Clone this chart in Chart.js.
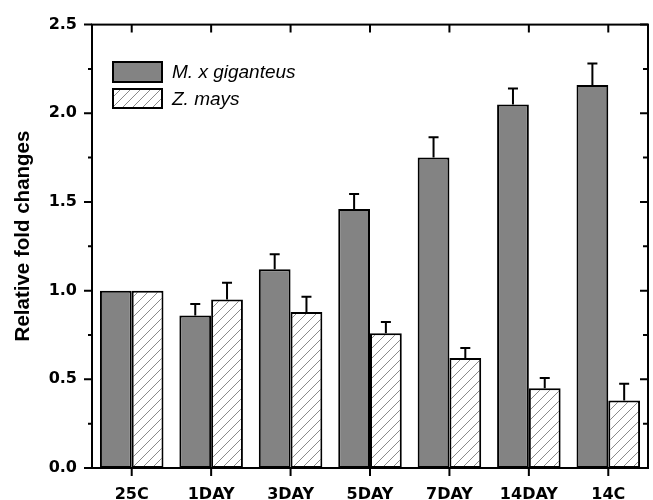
<!DOCTYPE html>
<html>
<head>
<meta charset="utf-8">
<script src="https://cdn.jsdelivr.net/npm/chart.js@4.4.0/dist/chart.umd.min.js"></script>
<style>
  html, body { margin: 0; padding: 0; background: #fff; }
  #wrap { width: 653px; height: 500px; }
</style>
</head>
<body>
<div id="wrap"><canvas id="c" width="653" height="500"></canvas></div>
<script>
// ---- data ----
const categories = ['25C', '1DAY', '3DAY', '5DAY', '7DAY', '14DAY', '14C'];
const seriesNames = ['M. x giganteus', 'Z. mays'];
const mxgValues = [1.00, 0.86, 1.12, 1.46, 1.75, 2.05, 2.16];
const mxgErrors = [0.00, 0.065, 0.085, 0.085, 0.115, 0.09, 0.12];
const zmValues  = [1.00, 0.95, 0.88, 0.76, 0.62, 0.45, 0.38];
const zmErrors  = [0.00, 0.095, 0.085, 0.063, 0.056, 0.058, 0.095];
const yTickValues = [0, 0.5, 1.0, 1.5, 2.0, 2.5];
const yTitle = 'Relative fold changes';

const FONT = '"Liberation Sans", Arial, sans-serif';
const TICKFONT = '"DejaVu Sans", "Liberation Sans", sans-serif';

// hatch pattern
function makeHatch() {
  const s = 10;
  const pc = document.createElement('canvas');
  pc.width = s; pc.height = s;
  const g = pc.getContext('2d');
  g.fillStyle = '#ffffff';
  g.fillRect(0, 0, s, s);
  g.strokeStyle = '#8a8a8a';
  g.lineWidth = 1;
  g.beginPath();
  g.moveTo(-1, s + 1); g.lineTo(s + 1, -1);
  g.moveTo(-1, 1); g.lineTo(1, -1);
  g.moveTo(s - 1, s + 1); g.lineTo(s + 1, s - 1);
  g.stroke();
  return g.createPattern(pc, 'repeat');
}
const ctx0 = document.getElementById('c').getContext('2d');
const hatch = makeHatch();

const errorBarPlugin = {
  id: 'errorBars',
  afterDatasetsDraw(chart) {
    const ctx = chart.ctx;
    const ys = chart.scales.y;
    const errs = [mxgErrors, zmErrors];
    const vals = [mxgValues, zmValues];
    ctx.save();
    ctx.strokeStyle = '#000';
    ctx.lineWidth = 2;
    chart.data.datasets.forEach((ds, i) => {
      const meta = chart.getDatasetMeta(i);
      meta.data.forEach((el, j) => {
        const e = errs[i][j];
        if (!e) return;
        const yb = ys.getPixelForValue(vals[i][j]);
        const yt = ys.getPixelForValue(vals[i][j] + e);
        ctx.beginPath();
        ctx.moveTo(el.x, yb);
        ctx.lineTo(el.x, yt);
        ctx.moveTo(el.x - 5, yt);
        ctx.lineTo(el.x + 5, yt);
        ctx.stroke();
      });
    });
    ctx.restore();
  }
};

const framePlugin = {
  id: 'frame',
  afterDraw(chart) {
    const ctx = chart.ctx;
    const a = chart.chartArea;
    const xs = chart.scales.x, ys = chart.scales.y;
    ctx.save();
    ctx.strokeStyle = '#000';
    ctx.lineWidth = 2;
    ctx.strokeRect(a.left, a.top, a.right - a.left, a.bottom - a.top);
    ctx.beginPath();
    for (let v = 0; v <= 2.5001; v += 0.25) {
      const y = ys.getPixelForValue(v);
      const major = Math.abs(v / 0.5 - Math.round(v / 0.5)) < 1e-6;
      const L = major ? 8 : 4;
      ctx.moveTo(a.left - L, y); ctx.lineTo(a.left, y);
      ctx.moveTo(a.right, y); ctx.lineTo(a.right - (major ? 8 : 5), y);
    }
    categories.forEach((c, i) => {
      const x = xs.getPixelForValue(i);
      ctx.moveTo(x, a.bottom); ctx.lineTo(x, a.bottom + 8);
      ctx.moveTo(x, a.top); ctx.lineTo(x, a.top + 8);
    });
    ctx.stroke();
    // y axis title
    ctx.save();
    ctx.translate(29, 236);
    ctx.rotate(-Math.PI / 2);
    ctx.font = 'bold 20.5px ' + FONT;
    ctx.fillStyle = '#000';
    ctx.textAlign = 'center';
    ctx.textBaseline = 'alphabetic';
    ctx.fillText(yTitle, 0, 0);
    ctx.restore();
    ctx.restore();
  }
};

const legendPlugin = {
  id: 'customLegend',
  afterDraw(chart) {
    const ctx = chart.ctx;
    ctx.save();
    const boxes = [[113, 62, 49, 20], [113, 89, 49, 19]];
    chart.data.datasets.forEach((ds, i) => {
      const [bx, by, bw, bh] = boxes[i];
      ctx.fillStyle = ds.backgroundColor;
      ctx.fillRect(bx, by, bw, bh);
      ctx.strokeStyle = '#000';
      ctx.lineWidth = 2;
      ctx.strokeRect(bx, by, bw, bh);
      ctx.fillStyle = '#000';
      ctx.font = 'italic 19px ' + FONT;
      ctx.textBaseline = 'middle';
      ctx.textAlign = 'left';
      ctx.fillText(ds.label, 172, by + bh / 2 + 1);
    });
    ctx.restore();
  }
};

Chart.defaults.color = '#000';
Chart.defaults.font.family = FONT;

new Chart(ctx0, {
  type: 'bar',
  data: {
    labels: categories,
    datasets: [
      { label: seriesNames[0], data: mxgValues, backgroundColor: '#838383', borderColor: '#000', borderWidth: 2, borderSkipped: false },
      { label: seriesNames[1], data: zmValues, backgroundColor: hatch, borderColor: '#000', borderWidth: 2, borderSkipped: false }
    ]
  },
  options: {
    responsive: false,
    animation: false,
    devicePixelRatio: 1,
    layout: { padding: { top: 22, right: 5, left: 0, bottom: 0 } },
    plugins: { legend: { display: false }, tooltip: { enabled: false } },
    datasets: { bar: { categoryPercentage: 0.8, barPercentage: 1.0 } },
    scales: {
      x: {
        grid: { display: false, drawTicks: false },
        border: { display: false },
        ticks: { font: { family: TICKFONT, size: 16, weight: 'bold' }, padding: 17, maxRotation: 0 },
        afterFit(s) { s.height = 32; }
      },
      y: {
        min: 0, max: 2.5,
        grid: { display: false, drawTicks: false },
        border: { display: false },
        afterBuildTicks(s) { s.ticks = yTickValues.map(v => ({ value: v })); },
        ticks: { font: { family: TICKFONT, size: 16, weight: 'bold' }, padding: 15, callback: v => Number(v).toFixed(1) },
        title: { display: false },
        afterFit(s) { s.width = 92; }
      }
    }
  },
  plugins: [errorBarPlugin, framePlugin, legendPlugin]
});
</script>
</body>
</html>
